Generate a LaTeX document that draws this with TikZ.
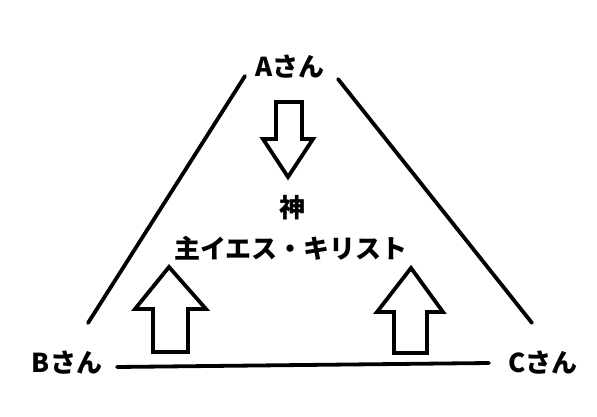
\documentclass[tikz,border=0pt]{standalone}
\usepackage{fontspec}
\newfontfamily\jp{Noto Sans CJK JP}
\begin{document}
\begin{tikzpicture}[x=1pt,y=-1pt,
  lbl/.style={font=\jp\bfseries\fontsize{26}{30}\selectfont, inner sep=0pt},
  edge/.style={line width=3.8pt, line cap=round},
  arr/.style={line width=3.8pt, line join=miter}]
\useasboundingbox (0,0) rectangle (597,417);
\node[lbl] (A) at (290,67) {Aさん};
\node[lbl] (B) at (67,363) {Bさん};
\node[lbl] (C) at (543,363) {Cさん};
\node[lbl] (G) at (292,208) {神};
\node[lbl] (J) at (291,248) {主イエス・キリスト};
% triangle sides
\coordinate (ltop) at (245,76);
\coordinate (lbot) at (88,323);
\coordinate (rtop) at (338,79);
\coordinate (rbot) at (532,323);
\coordinate (bl) at (117,367);
\coordinate (br) at (489,363);
\draw[edge] (ltop) -- (lbot);
\draw[edge] (rtop) -- (rbot);
\draw[edge] (bl) -- (br);
% down arrow from A
\draw[arr] (276,102) -- (302,102) -- (302,139) -- (313,139) -- (288,177) -- (263,139) -- (276,139) -- cycle;
% up arrow left
\draw[arr] (153,352) -- (188,352) -- (188,309) -- (206,309) -- (169,267) -- (135,309) -- (153,309) -- cycle;
% up arrow right
\draw[arr] (394,353) -- (427,353) -- (427,312) -- (443,312) -- (411,268) -- (377,312) -- (394,312) -- cycle;
\end{tikzpicture}
\end{document}
